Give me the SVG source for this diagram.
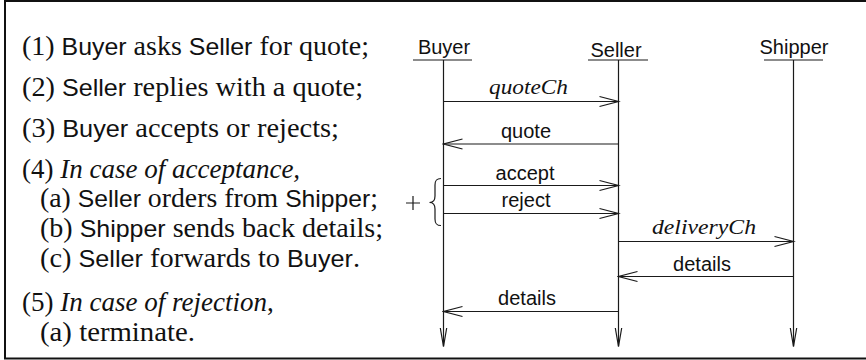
<svg xmlns="http://www.w3.org/2000/svg" width="866" height="360" viewBox="0 0 866 360">
  <defs>
    <style>
      .ln { stroke: #1a1a1a; stroke-width: 1.2; fill: none; }
      text { fill: #111; white-space: pre; }
      .rm { font-family: "Liberation Serif", serif; font-size: 27px; }
      .sf { font-family: "Liberation Sans", sans-serif; font-size: 24px; }
      .it { font-style: italic; }
      .hd { font-family: "Liberation Sans", sans-serif; font-size: 20px; text-anchor: middle; }
      .lbl { font-family: "Liberation Sans", sans-serif; font-size: 20px; text-anchor: middle; }
      .mi { font-family: "Liberation Serif", serif; font-style: italic; font-size: 22px; text-anchor: middle; }
    </style>
    <!-- open arrowhead for messages -->
    <marker id="msg" markerUnits="userSpaceOnUse" viewBox="-21 -7 23 14" refX="0" refY="0" markerWidth="23" markerHeight="14" orient="auto">
      <path d="M-19,-5 L0,0 L-19,5" class="ln"/>
    </marker>
    <!-- narrow open arrowhead at the end of each lifeline -->
    <marker id="life" markerUnits="userSpaceOnUse" viewBox="-21 -5 23 10" refX="0" refY="0" markerWidth="23" markerHeight="10" orient="auto">
      <path d="M-18.5,-3.2 L0,0 L-18.5,3.2" class="ln"/>
    </marker>
  </defs>

  <rect x="0" y="0" width="866" height="360" fill="#fff"/>
  <!-- frame -->
  <rect x="5" y="1" width="866" height="357.5" fill="none" stroke="#111" stroke-width="2"/>

  <!-- protocol description -->
  <g id="steps" class="rm">
    <text x="22" y="55" textLength="347" lengthAdjust="spacingAndGlyphs">(1) <tspan class="sf">Buyer</tspan> asks <tspan class="sf">Seller</tspan> for quote;</text>
    <text x="22" y="96" textLength="341" lengthAdjust="spacingAndGlyphs">(2) <tspan class="sf">Seller</tspan> replies with a quote;</text>
    <text x="22" y="137" textLength="317" lengthAdjust="spacingAndGlyphs">(3) <tspan class="sf">Buyer</tspan> accepts or rejects;</text>
    <text x="22" y="178">(4) <tspan class="it">In case of acceptance,</tspan></text>
    <text x="40" y="207" textLength="338" lengthAdjust="spacingAndGlyphs">(a) <tspan class="sf">Seller</tspan> orders from <tspan class="sf">Shipper</tspan>;</text>
    <text x="40" y="237" textLength="343" lengthAdjust="spacingAndGlyphs">(b) <tspan class="sf">Shipper</tspan> sends back details;</text>
    <text x="40" y="267" textLength="320" lengthAdjust="spacingAndGlyphs">(c) <tspan class="sf">Seller</tspan> forwards to <tspan class="sf">Buyer</tspan>.</text>
    <text x="22" y="311">(5) <tspan class="it">In case of rejection</tspan>,</text>
    <text x="40" y="341" textLength="155" lengthAdjust="spacingAndGlyphs">(a) terminate.</text>
  </g>

  <!-- participants with lifelines -->
  <g id="buyer">
    <text class="hd" x="444" y="54">Buyer</text>
    <line class="ln" x1="413" y1="60" x2="472" y2="60"/>
    <line class="ln" x1="443.5" y1="60" x2="443.5" y2="346.5" marker-end="url(#life)"/>
  </g>
  <g id="seller">
    <text class="hd" x="616" y="57">Seller</text>
    <line class="ln" x1="588" y1="60" x2="648" y2="60"/>
    <line class="ln" x1="618.5" y1="60" x2="618.5" y2="346.5" marker-end="url(#life)"/>
  </g>
  <g id="shipper">
    <text class="hd" x="794" y="54">Shipper</text>
    <line class="ln" x1="764" y1="60" x2="823" y2="60"/>
    <line class="ln" x1="793.5" y1="60" x2="793.5" y2="346.5" marker-end="url(#life)"/>
  </g>

  <!-- choice between accept and reject -->
  <g id="choice">
    <path class="ln" d="M406,203 H420 M413,196 V210"/>
    <path class="ln" stroke-width="1.5" d="M441,178.5 C436,178.5 435,181 435,185 V196 C435,200 433,202.5 429.5,202.5 C433,202.5 435,205 435,209 V219 C435,223 436,225.5 441,225.5"/>
  </g>

  <!-- messages -->
  <g id="messages">
    <line class="ln" x1="443.5" y1="101.5" x2="618.5" y2="101.5" marker-end="url(#msg)"/>
    <text class="mi" x="528.5" y="94" textLength="79" lengthAdjust="spacingAndGlyphs">quoteCh</text>

    <line class="ln" x1="618.5" y1="144" x2="443.5" y2="144" marker-end="url(#msg)"/>
    <text class="lbl" x="526" y="137.5">quote</text>

    <line class="ln" x1="443.5" y1="185.5" x2="618.5" y2="185.5" marker-end="url(#msg)"/>
    <text class="lbl" x="525" y="179.5">accept</text>

    <line class="ln" x1="443.5" y1="213.5" x2="618.5" y2="213.5" marker-end="url(#msg)"/>
    <text class="lbl" x="526" y="207">reject</text>

    <line class="ln" x1="618.5" y1="241.5" x2="793.5" y2="241.5" marker-end="url(#msg)"/>
    <text class="mi" x="704" y="234" textLength="104" lengthAdjust="spacingAndGlyphs">deliveryCh</text>

    <line class="ln" x1="793.5" y1="276.5" x2="618.5" y2="276.5" marker-end="url(#msg)"/>
    <text class="lbl" x="702" y="271">details</text>

    <line class="ln" x1="618.5" y1="311.5" x2="443.5" y2="311.5" marker-end="url(#msg)"/>
    <text class="lbl" x="527" y="305">details</text>
  </g>
</svg>
